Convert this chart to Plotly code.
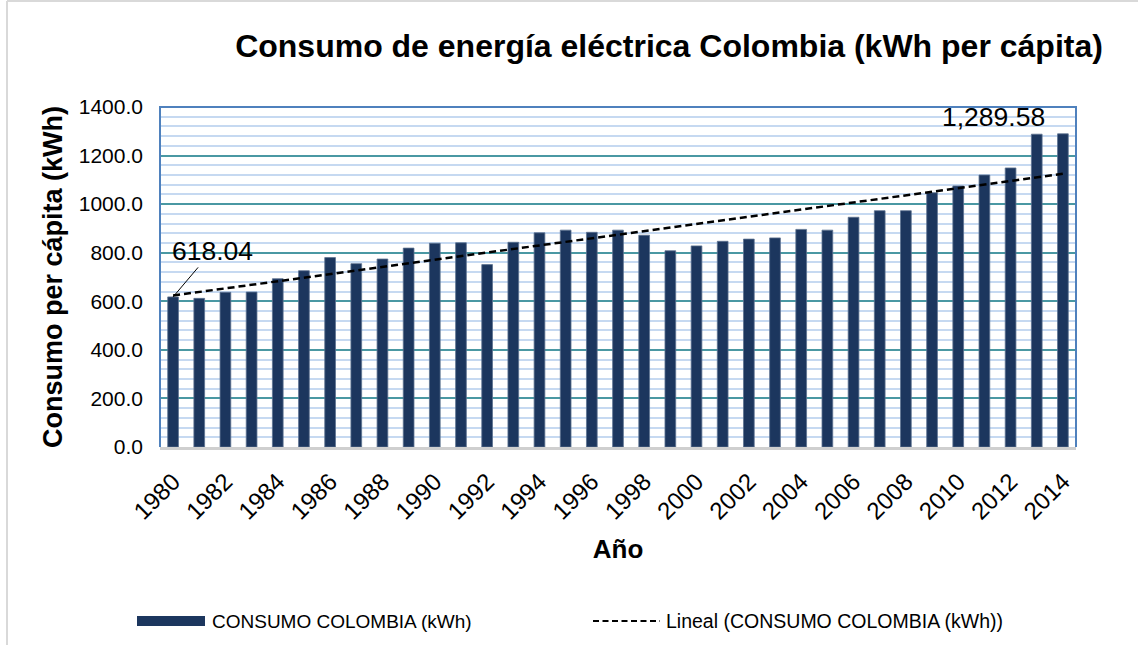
import numpy as np
import plotly.graph_objects as go

# Consumo de energía eléctrica per cápita en Colombia, 1980–2014 (kWh)
years = list(range(1980, 2015))
consumo = [618.04, 612, 637, 638, 693, 726, 780, 755, 774, 819,
           839, 841, 751, 843, 882, 893, 884, 893, 872, 808,
           828, 847, 856, 861, 896, 893, 946, 973, 973, 1047,
           1075, 1120, 1149, 1288, 1289.58]
tick_years = years[::2]
y_ticks = list(range(0, 1401, 200))

serie_nombre = "CONSUMO COLOMBIA (kWh)"
tendencia_nombre = "Lineal (CONSUMO COLOMBIA (kWh))"

FONT = "Liberation Sans, Arial, sans-serif"
BAR = "#1c365e"

W, H = 1138, 645
L, R, T, B = 160, 1076, 107, 447   # plot area in pixels


def px(x):
    return (x - L) / (R - L)


def py(y):
    return (B - y) / (B - T)


# least-squares linear trend of the series
slope, intercept = np.polyfit(years, consumo, 1)
trend = [slope * y + intercept for y in years]

fig = go.Figure()
fig.add_trace(go.Bar(
    x=years, y=consumo, name=serie_nombre,
    marker=dict(color=BAR, line=dict(color="#5d7291", width=0.8)),
    showlegend=False,
))
fig.add_trace(go.Scatter(
    x=[years[0], years[-1]], y=[trend[0], trend[-1]], mode="lines",
    name=tendencia_nombre,
    line=dict(color="black", width=2.5, dash="7px,4px"),
    showlegend=False,
))

shapes = [
    # outer frame (top and left edges)
    dict(type="line", xref="paper", yref="paper", x0=px(7), x1=px(W + 5),
         y0=py(1), y1=py(1), line=dict(color="#d9d9d9", width=2)),
    dict(type="line", xref="paper", yref="paper", x0=px(7), x1=px(7),
         y0=py(1), y1=py(H + 5), line=dict(color="#d9d9d9", width=2)),
    # plot area border (left, top, right)
    dict(type="path", xref="paper", yref="paper",
         path="M 0 0 L 0 1 L 1 1 L 1 0", line=dict(color="#4f81bd", width=2)),
    # legend keys
    dict(type="rect", xref="paper", yref="paper", x0=px(137), x1=px(205),
         y0=py(616), y1=py(626), fillcolor=BAR, line=dict(width=0)),
    dict(type="line", xref="paper", yref="paper", x0=px(593), x1=px(660),
         y0=py(621), y1=py(621),
         line=dict(color="black", width=2, dash="6px,3.5px")),
]

annotations = [
    dict(x=years[0], y=consumo[0], text=f"{consumo[0]:,.2f}", showarrow=True,
         arrowhead=0, arrowwidth=1, arrowcolor="black", ax=39, ay=-46,
         font=dict(family=FONT, size=26.5, color="black")),
    dict(x=years[-1], y=consumo[-1], text=f"{consumo[-1]:,.2f}", showarrow=False,
         xanchor="center", yanchor="middle", xshift=-69, yshift=17,
         font=dict(family=FONT, size=26.5, color="black")),
    dict(xref="paper", yref="paper", x=px(210), y=py(621), text=serie_nombre,
         showarrow=False, xanchor="left", yanchor="middle",
         font=dict(family=FONT, size=19, color="black")),
    dict(xref="paper", yref="paper", x=px(664), y=py(621), text=tendencia_nombre,
         showarrow=False, xanchor="left", yanchor="middle",
         font=dict(family=FONT, size=19.5, color="black")),
]

fig.update_layout(
    width=W, height=H,
    margin=dict(l=L, r=W - R, t=T, b=H - B),
    paper_bgcolor="white", plot_bgcolor="white",
    bargap=0.59,
    font=dict(family=FONT, color="black"),
    title=dict(text="<b>Consumo de energía eléctrica Colombia (kWh per cápita)</b>",
               x=669 / W, xanchor="center", xref="container",
               y=1 - 46 / H, yanchor="middle", yref="container",
               font=dict(family=FONT, size=32, color="black")),
    shapes=shapes,
    annotations=annotations,
)

fig.update_xaxes(
    range=[1979.5, 2014.5], tickmode="array", tickvals=tick_years,
    ticktext=[str(y) for y in tick_years], tickangle=-45,
    tickfont=dict(family=FONT, size=24, color="black"),
    showgrid=False, zeroline=False, ticks="",
    showline=True, linecolor="#cfcfcf", linewidth=3,
    ticklabelstandoff=8,
    title=dict(text="<b>Año</b>", standoff=17,
               font=dict(family=FONT, size=26, color="black")),
)
fig.update_yaxes(
    range=[0, 1400], tickmode="array", tickvals=y_ticks,
    tickformat=".1f",
    tickfont=dict(family=FONT, size=21, color="black"),
    showgrid=True, gridcolor="#4a98a3", gridwidth=1.5,
    minor=dict(dtick=40, tick0=0, showgrid=True, gridcolor="#c6d9f1", gridwidth=2),
    zeroline=False, ticks="", showline=False,
    ticklabelstandoff=16,
    title=dict(text="<b>Consumo per cápita (kWh)</b>", standoff=8,
               font=dict(family=FONT, size=27, color="black")),
)

fig.write_html("out.html")
